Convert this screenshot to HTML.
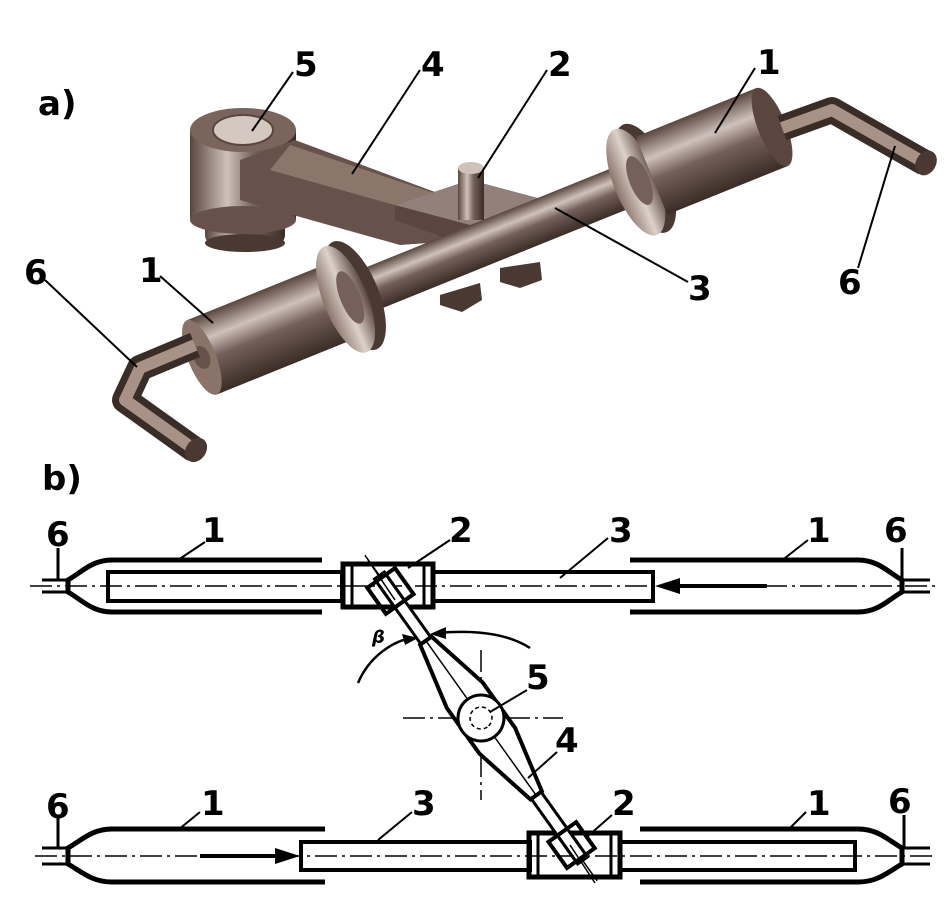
<!DOCTYPE html>
<html><head><meta charset="utf-8"><style>
html,body{margin:0;padding:0;background:#fff}
svg{display:block}
text{font-family:"DejaVu Sans","Liberation Sans",sans-serif;font-weight:bold;font-size:34px;fill:#000}
</style></head><body>
<svg width="951" height="900" viewBox="0 0 951 900" xmlns="http://www.w3.org/2000/svg">
<defs>
<linearGradient id="cy" x1="0" y1="0" x2="0" y2="1">
<stop offset="0" stop-color="#5a463e"/><stop offset="0.3" stop-color="#cfc2ba"/><stop offset="0.55" stop-color="#75605a"/><stop offset="1" stop-color="#3a2c26"/></linearGradient>
<linearGradient id="cyv" x1="0" y1="0" x2="1" y2="0">
<stop offset="0" stop-color="#5a463e"/><stop offset="0.35" stop-color="#cfc2ba"/><stop offset="0.6" stop-color="#75605a"/><stop offset="1" stop-color="#3a2c26"/></linearGradient>
<linearGradient id="fl" x1="0" y1="0" x2="1" y2="0">
<stop offset="0" stop-color="#8a746a"/><stop offset="0.5" stop-color="#ddd2ca"/><stop offset="1" stop-color="#5a463e"/></linearGradient>
</defs>
<rect width="951" height="900" fill="#fff"/>

<!-- ===== a) 3D ===== -->
<rect x="205" y="190" width="80" height="55" rx="10" fill="url(#cyv)"/>
<ellipse cx="245" cy="243" rx="40" ry="9" fill="#4a3832"/>
<rect x="190" y="130" width="106" height="90" fill="url(#cyv)"/>
<ellipse cx="243" cy="220" rx="53" ry="14" fill="#66524a"/>
<ellipse cx="243" cy="130" rx="53" ry="22" fill="#7a655c"/>
<ellipse cx="243" cy="130" rx="30" ry="15" fill="#d4c8c0" stroke="#5a463e" stroke-width="2"/>
<polygon points="240,160 295,140 470,205 470,240 400,245 240,200" fill="#66524a"/>
<polygon points="290,145 470,205 430,215 270,170" fill="#8c766c"/>
<polygon points="395,205 470,180 545,200 545,220 465,245 395,220" fill="#5a463e"/>
<polygon points="395,205 470,180 545,200 470,225" fill="#94807a"/>
<rect x="458" y="168" width="26" height="52" fill="url(#cyv)"/>
<ellipse cx="471" cy="168" rx="13" ry="6" fill="#cfc2ba"/>
<polygon points="440,295 480,283 482,300 462,312 440,305" fill="#4a3832"/>
<polygon points="500,268 540,262 542,280 520,288 500,282" fill="#4a3832"/>

<g transform="translate(480,245) rotate(-22)">
  <rect x="-175" y="-22" width="430" height="44" fill="url(#cy)"/>
  <rect x="-300" y="-40" width="165" height="80" fill="url(#cy)"/>
  <ellipse cx="-300" cy="0" rx="14" ry="40" fill="#8a746a"/>
  <ellipse cx="-300" cy="0" rx="8" ry="12" fill="#66524a"/>
  <ellipse cx="-135" cy="0" rx="24" ry="58" fill="#4a3832"/>
  <ellipse cx="-145" cy="0" rx="22" ry="57" fill="url(#fl)"/>
  <ellipse cx="-140" cy="0" rx="10" ry="28" fill="#75605a"/>
  <ellipse cx="178" cy="0" rx="24" ry="58" fill="#4a3832"/>
  <ellipse cx="168" cy="0" rx="22" ry="57" fill="url(#fl)"/>
  <ellipse cx="172" cy="0" rx="10" ry="26" fill="#75605a"/>
  <rect x="185" y="-42" width="130" height="84" fill="url(#cy)"/>
  <ellipse cx="315" cy="0" rx="14" ry="42" fill="#5a463e"/>
</g>
<polyline points="195,345 140,368 125,400 195,450" fill="none" stroke="#3a2c26" stroke-width="26" stroke-linejoin="round"/>
<polyline points="195,345 140,368 125,400 195,450" fill="none" stroke="#a89288" stroke-width="12" stroke-linejoin="round"/>
<ellipse cx="196" cy="450" rx="10" ry="13" fill="#4a3832" transform="rotate(35 196 450)"/>
<polyline points="782,128 832,110 925,163" fill="none" stroke="#3a2c26" stroke-width="26" stroke-linejoin="round"/>
<polyline points="782,128 832,110 925,163" fill="none" stroke="#a89288" stroke-width="12" stroke-linejoin="round"/>
<ellipse cx="926" cy="163" rx="10" ry="13" fill="#4a3832" transform="rotate(30 926 163)"/>

<g stroke="#000" stroke-width="2">
<line x1="293" y1="72" x2="252" y2="131"/>
<line x1="420" y1="70" x2="352" y2="174"/>
<line x1="547" y1="70" x2="478" y2="178"/>
<line x1="755" y1="68" x2="715" y2="133"/>
<line x1="45" y1="280" x2="137" y2="367"/>
<line x1="160" y1="276" x2="213" y2="323"/>
<line x1="688" y1="282" x2="555" y2="208"/>
<line x1="858" y1="268" x2="895" y2="146"/>
</g>
<text x="38" y="115">a)</text>
<text x="294" y="76">5</text>
<text x="421" y="76">4</text>
<text x="548" y="76">2</text>
<text x="757" y="74">1</text>
<text x="24" y="284">6</text>
<text x="139" y="282">1</text>
<text x="688" y="300">3</text>
<text x="838" y="294">6</text>
<text x="42" y="490">b)</text>

<!-- ===== b) schematic ===== -->
<g fill="none" stroke="#000">
<g stroke-width="1.5" stroke-dasharray="22,5,3,5">
<line x1="30" y1="586" x2="940" y2="586"/>
<line x1="35" y1="856" x2="935" y2="856"/>
<line x1="403" y1="718" x2="563" y2="718"/>
<line x1="481" y1="650" x2="481" y2="800"/>
</g>
<path d="M322,560 H112 C92,560 82,572 68,580 V592 C82,600 92,612 112,612 H322" stroke-width="5"/>
<rect x="108" y="572" width="234" height="29" stroke-width="4"/>
<rect x="433" y="572" width="220" height="29" stroke-width="4"/>
<path d="M630,560 H858 C878,560 888,572 902,580 V592 C888,600 878,612 858,612 H630" stroke-width="5"/>
<rect x="343" y="564" width="90" height="43" stroke-width="5"/>
<line x1="352" y1="564" x2="352" y2="607" stroke-width="3"/>
<line x1="424" y1="564" x2="424" y2="607" stroke-width="3"/>
<g stroke-width="3"><line x1="42" y1="580" x2="68" y2="580"/><line x1="42" y1="592" x2="68" y2="592"/><line x1="58" y1="548" x2="58" y2="580"/>
<line x1="902" y1="580" x2="930" y2="580"/><line x1="902" y1="592" x2="930" y2="592"/><line x1="902" y1="548" x2="902" y2="580"/></g>
<path d="M325,829 H112 C92,829 82,840 68,848 V864 C82,872 92,882 112,882 H325" stroke-width="5"/>
<rect x="301" y="842" width="229" height="28" stroke-width="4"/>
<rect x="620" y="842" width="235" height="28" stroke-width="4"/>
<path d="M640,829 H858 C878,829 888,840 902,848 V864 C888,872 878,882 858,882 H640" stroke-width="5"/>
<rect x="529" y="833" width="91" height="44" stroke-width="5"/>
<line x1="538" y1="833" x2="538" y2="877" stroke-width="3"/>
<line x1="611" y1="833" x2="611" y2="877" stroke-width="3"/>
<g stroke-width="3"><line x1="42" y1="848" x2="68" y2="848"/><line x1="42" y1="864" x2="68" y2="864"/><line x1="58" y1="818" x2="58" y2="848"/>
<line x1="902" y1="848" x2="930" y2="848"/><line x1="902" y1="864" x2="930" y2="864"/><line x1="904" y1="815" x2="904" y2="848"/></g>
</g>
<line x1="767" y1="586" x2="670" y2="586" stroke="#000" stroke-width="4"/>
<polygon points="655,586 680,578 680,594" fill="#000"/>
<line x1="200" y1="856" x2="285" y2="856" stroke="#000" stroke-width="4"/>
<polygon points="300,856 275,848 275,864" fill="#000"/>

<g transform="translate(481,718) rotate(54.5)" stroke="#000" fill="#fff">
  <line x1="-200" y1="0" x2="200" y2="0" stroke-width="1.5"/>
  <rect x="-175" y="-6" width="80" height="12" stroke-width="3"/>
  <rect x="95" y="-6" width="80" height="12" stroke-width="3"/>
  <polygon points="-95,-7 -28,-22 28,-22 95,-7 95,7 28,22 -28,22 -95,7" stroke-width="4"/>
  <line x1="-95" y1="0" x2="95" y2="0" stroke-width="1.5"/>
  <rect x="-172" y="-17" width="32" height="34" stroke-width="4" fill="none"/>
  <rect x="140" y="-17" width="32" height="34" stroke-width="4" fill="none"/>
  <line x1="-175" y1="-6" x2="-140" y2="-6" stroke-width="3"/>
  <line x1="-175" y1="6" x2="-140" y2="6" stroke-width="3"/>
  <line x1="140" y1="-6" x2="175" y2="-6" stroke-width="3"/>
  <line x1="140" y1="6" x2="175" y2="6" stroke-width="3"/>
  <circle cx="0" cy="0" r="23" stroke-width="3"/>
  <circle cx="0" cy="0" r="11" stroke-width="1.5" stroke-dasharray="4,3"/>
</g>
<line x1="368" y1="560" x2="395" y2="600" stroke="#000" stroke-width="1.5"/>
<line x1="570" y1="845" x2="595" y2="883" stroke="#000" stroke-width="1.5"/>

<path d="M358,683 C370,655 395,640 413,638" fill="none" stroke="#000" stroke-width="2.5"/>
<polygon points="418,638 402,634 405,645" fill="#000"/>
<path d="M530,648 C505,632 470,630 437,633" fill="none" stroke="#000" stroke-width="2.5"/>
<polygon points="430,634 446,627 446,639" fill="#000"/>
<text x="372" y="643" style="font-size:18px;font-style:italic">β</text>

<g stroke="#000" stroke-width="2">
<line x1="205" y1="542" x2="178" y2="560"/>
<line x1="450" y1="540" x2="408" y2="568"/>
<line x1="608" y1="538" x2="560" y2="578"/>
<line x1="808" y1="540" x2="785" y2="558"/>
<line x1="527" y1="690" x2="490" y2="712"/>
<line x1="557" y1="752" x2="528" y2="778"/>
<line x1="200" y1="812" x2="178" y2="830"/>
<line x1="412" y1="812" x2="378" y2="840"/>
<line x1="612" y1="815" x2="588" y2="836"/>
<line x1="806" y1="812" x2="788" y2="830"/>
</g>
<text x="46" y="546">6</text>
<text x="202" y="542">1</text>
<text x="449" y="542">2</text>
<text x="609" y="542">3</text>
<text x="807" y="542">1</text>
<text x="884" y="542">6</text>
<text x="526" y="689">5</text>
<text x="555" y="752">4</text>
<text x="46" y="818">6</text>
<text x="201" y="815">1</text>
<text x="412" y="815">3</text>
<text x="612" y="815">2</text>
<text x="807" y="815">1</text>
<text x="888" y="813">6</text>
</svg>
</body></html>
